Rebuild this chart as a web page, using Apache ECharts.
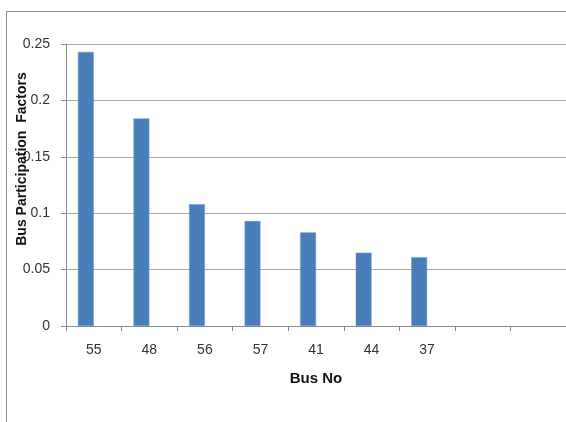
<!DOCTYPE html>
<html>
<head>
<meta charset="utf-8">
<script src="https://cdn.jsdelivr.net/npm/echarts@6/dist/echarts.min.js"></script>
<style>
  html, body { margin: 0; padding: 0; background: #fff; }
  #chart { width: 566px; height: 422px; }
</style>
</head>
<body>
<div id="chart"></div>
<script>
// Bus numbers along the x axis (two trailing empty slots)
const busNo = ['55', '48', '56', '57', '41', '44', '37', '', ''];
// Participation factor for each bus
const participation = [0.243, 0.184, 0.108, 0.093, 0.083, 0.065, 0.061, null, null];
// Companion series with no values (keeps the paired bar layout)
const emptySeries = [null, null, null, null, null, null, null, null, null];
// Y tick settings
const yMin = 0, yMax = 0.25, yStep = 0.05;

const font = '"Liberation Sans", Arial, sans-serif';
const chart = echarts.init(document.getElementById('chart'), null, { renderer: 'canvas' });

chart.setOption({
  animation: false,
  backgroundColor: '#ffffff',
  grid: { left: 66, top: 44, right: 0, bottom: 96, containLabel: false },
  graphic: [
    {
      type: 'rect',
      shape: { x: 6.5, y: 11.5, width: 700, height: 600 },
      style: { fill: 'none', stroke: '#8c8c8c', lineWidth: 1 },
      silent: true
    },
    {
      type: 'text',
      x: 22, y: 159,
      rotation: Math.PI / 2,
      style: {
        text: 'Bus Participation  Factors',
        font: 'bold 14px ' + font,
        fill: '#111',
        align: 'center',
        verticalAlign: 'middle'
      },
      z: 10
    }
  ],
  xAxis: {
    type: 'category',
    data: busNo,
    name: 'Bus No',
    nameLocation: 'middle',
    nameGap: 45,
    nameTextStyle: { fontFamily: font, fontSize: 15, fontWeight: 'bold', color: '#111' },
    axisLine: { lineStyle: { color: '#8c8c8c', width: 1 } },
    axisTick: { show: true, length: 5, alignWithLabel: false, lineStyle: { color: '#8c8c8c' } },
    axisLabel: { fontFamily: font, fontSize: 14, color: '#333', margin: 17, interval: 0 }
  },
  yAxis: {
    type: 'value',
    min: yMin, max: yMax, interval: yStep,
    axisLine: { show: true, lineStyle: { color: '#8c8c8c', width: 1 } },
    axisTick: { show: true, length: 5, lineStyle: { color: '#8c8c8c' } },
    splitLine: { lineStyle: { color: '#a6a6a6', width: 1 } },
    axisLabel: {
      fontFamily: font, fontSize: 14, color: '#333', margin: 16,
      formatter: v => String(+v.toFixed(2))
    }
  },
  series: [
    {
      type: 'bar',
      data: participation,
      barGap: '0%',
      barCategoryGap: '43%',
      itemStyle: { color: '#4a7ebb', borderColor: '#6d95c8', borderWidth: 0.5 }
    },
    {
      type: 'bar',
      data: emptySeries,
      barGap: '0%',
      barCategoryGap: '43%',
      itemStyle: { color: '#c0504d' }
    }
  ]
});
</script>
</body>
</html>
